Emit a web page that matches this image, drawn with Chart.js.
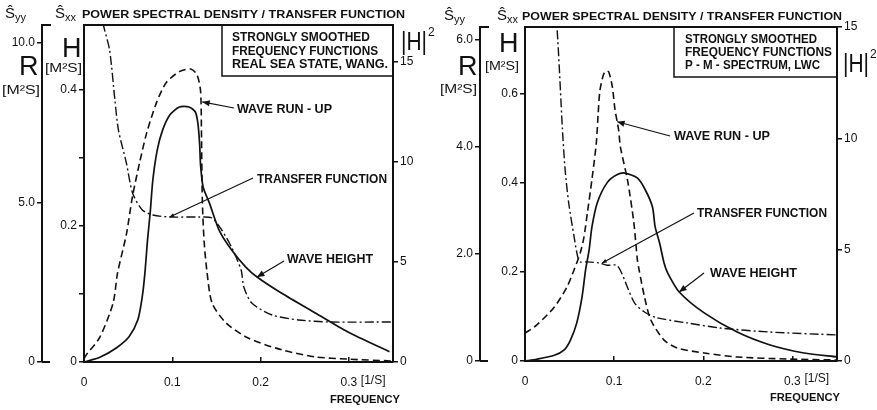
<!DOCTYPE html>
<html>
<head>
<meta charset="utf-8">
<script src="https://cdn.jsdelivr.net/npm/chart.js@4.4.0/dist/chart.umd.min.js"></script>
<style>
  html, body { margin: 0; padding: 0; background: #fff; }
  #wrap { position: relative; width: 877px; height: 410px; }
  #chart-wang { position: absolute; left: 0; top: 0; }
  #chart-pm { position: absolute; left: 437px; top: 0; }
</style>
</head>
<body>
<div id="wrap">
  <canvas id="chart-wang" width="437" height="410"></canvas>
  <canvas id="chart-pm" width="440" height="410"></canvas>
</div>
<script>
// frequency axis ticks [1/s]
const freqTicks = [0, 0.1, 0.2, 0.3];

// left panel: real sea state, Wang
const wangRunUpFreq = [0, 0.002, 0.018, 0.033, 0.038, 0.048, 0.055, 0.063, 0.071, 0.082, 0.093, 0.108, 0.121, 0.128, 0.132, 0.133, 0.134, 0.136, 0.139, 0.145, 0.161, 0.186, 0.224, 0.262, 0.299, 0.35];
const wangRunUp = [0.1, 0.2, 0.78, 1.85, 2.79, 4.0, 5.2, 6.25, 7.18, 8.12, 8.75, 9.1, 9.18, 9.0, 8.5, 7.3, 5.1, 3.8, 2.9, 1.85, 1.22, 0.75, 0.38, 0.16, 0.09, 0.03];
const wangHeightFreq = [0, 0.018, 0.037, 0.051, 0.061, 0.066, 0.069, 0.072, 0.075, 0.078, 0.083, 0.089, 0.097, 0.108, 0.119, 0.126, 0.129, 0.131, 0.132, 0.135, 0.142, 0.153, 0.167, 0.183, 0.196, 0.224, 0.262, 0.299, 0.346];
const wangHeight = [0, 0.007, 0.021, 0.037, 0.062, 0.096, 0.131, 0.18, 0.22, 0.268, 0.312, 0.341, 0.363, 0.375, 0.375, 0.368, 0.351, 0.32, 0.29, 0.257, 0.234, 0.194, 0.165, 0.14, 0.125, 0.101, 0.072, 0.044, 0.015];
const wangTransferFreq = [0.019, 0.022, 0.029, 0.035, 0.039, 0.048, 0.055, 0.066, 0.078, 0.097, 0.131, 0.145, 0.156, 0.167, 0.178, 0.181, 0.190, 0.213, 0.243, 0.280, 0.35];
const wangTransfer = [17.8, 16.85, 15.6, 13.1, 11.6, 9.95, 8.45, 7.6, 7.35, 7.25, 7.25, 7.2, 6.6, 5.75, 4.6, 3.75, 2.95, 2.35, 2.1, 2.0, 2.0];
const wangRTicks = [0, 5, 10];
const wangHTicks = [0, 0.1, 0.2, 0.3, 0.4];
const wangHLabelled = [0, 0.2, 0.4];
const wangTTicks = [0, 5, 10, 15];

// right panel: P-M spectrum, LWC
const pmRunUpFreq = [0, 0.013, 0.033, 0.047, 0.055, 0.062, 0.066, 0.070, 0.075, 0.080, 0.082, 0.084, 0.088, 0.091, 0.094, 0.098, 0.101, 0.105, 0.107, 0.115, 0.122, 0.126, 0.128, 0.134, 0.141, 0.156, 0.171, 0.201, 0.238, 0.294, 0.35];
const pmRunUp = [0.52, 0.67, 1.01, 1.38, 1.70, 2.02, 2.30, 2.77, 3.38, 4.07, 4.6, 5.05, 5.35, 5.42, 5.40, 5.12, 4.69, 4.32, 4.0, 3.38, 2.6, 1.9, 1.70, 1.20, 0.77, 0.39, 0.24, 0.15, 0.075, 0.037, 0.019];
const pmHeightFreq = [0, 0.013, 0.033, 0.044, 0.051, 0.058, 0.064, 0.068, 0.072, 0.075, 0.081, 0.092, 0.103, 0.112, 0.126, 0.135, 0.143, 0.146, 0.151, 0.156, 0.160, 0.173, 0.201, 0.238, 0.275, 0.313, 0.35];
const pmHeight = [0, 0.004, 0.013, 0.025, 0.047, 0.085, 0.144, 0.205, 0.25, 0.30, 0.355, 0.40, 0.418, 0.422, 0.411, 0.384, 0.346, 0.301, 0.265, 0.220, 0.198, 0.155, 0.108, 0.065, 0.036, 0.018, 0.009];
const pmTransferFreq = [0.033, 0.036, 0.042, 0.045, 0.049, 0.055, 0.059, 0.062, 0.070, 0.084, 0.092, 0.103, 0.109, 0.115, 0.123, 0.134, 0.148, 0.182, 0.219, 0.275, 0.35];
const pmTransfer = [15.6, 14.9, 10.4, 8.6, 7.1, 5.6, 4.7, 4.45, 4.45, 4.4, 4.3, 4.3, 3.9, 3.3, 2.6, 2.2, 1.94, 1.71, 1.48, 1.30, 1.17];
const pmRTicks = [0, 2, 4, 6];
const pmHTicks = [0, 0.2, 0.4, 0.6];
const pmTTicks = [0, 5, 10, 15];

const ink = '#111';
const FONT = "'Liberation Sans', Arial, sans-serif";

function line(ctx, x1, y1, x2, y2) {
  ctx.beginPath(); ctx.moveTo(x1, y1); ctx.lineTo(x2, y2); ctx.stroke();
}

// draw text, squeezed/stretched to a given width
function fitText(ctx, text, x, y, w, font, align) {
  ctx.font = font;
  const m = ctx.measureText(text).width;
  const k = w ? w / m : 1;
  ctx.save();
  ctx.translate(x, y);
  ctx.scale(k, 1);
  ctx.textAlign = align || 'left';
  ctx.textBaseline = 'alphabetic';
  ctx.fillText(text, 0, 0);
  ctx.restore();
  return m * k;
}

function shat(ctx, sub, x, y) {
  const w = fitText(ctx, '\u015C', x, y, 0, '15px ' + FONT);
  fitText(ctx, sub, x + w, y + 3, 0, '11px ' + FONT);
}

function arrow(ctx, x1, y1, x2, y2, size) {
  line(ctx, x1, y1, x2, y2);
  const a = Math.atan2(y2 - y1, x2 - x1);
  ctx.beginPath();
  ctx.moveTo(x2, y2);
  ctx.lineTo(x2 - size * Math.cos(a - 0.4), y2 - size * Math.sin(a - 0.4));
  ctx.lineTo(x2 - size * Math.cos(a + 0.4), y2 - size * Math.sin(a + 0.4));
  ctx.closePath();
  ctx.fill();
}

const decor = {
  id: 'decor',
  afterDraw(chart, args, o) {
    const ctx = chart.ctx, ca = chart.chartArea, s = chart.scales;
    ctx.save();
    ctx.strokeStyle = ink; ctx.fillStyle = ink;

    // frame top and stubs of the outer axis
    ctx.lineWidth = 2;
    line(ctx, ca.left - 1, ca.top, ca.right + 1, ca.top);
    line(ctx, s.yR.right, s.yR.top, s.yR.right + 9, s.yR.top);
    line(ctx, s.yR.right, s.yR.bottom, s.yR.right + 8, s.yR.bottom);

    // heading
    shat(ctx, 'yy', o.syy[0], o.syy[1]);
    shat(ctx, 'xx', o.sxx[0], o.sxx[1]);
    fitText(ctx, 'POWER SPECTRAL DENSITY / TRANSFER FUNCTION', o.head[0], o.head[1], o.head[2], 'bold 11px ' + FONT);

    // axis names
    fitText(ctx, 'R', o.rName[0], o.rName[1], 0, '27px ' + FONT);
    fitText(ctx, '[M\u00B2S]', o.rUnit[0], o.rUnit[1], o.rUnit[2], '12px ' + FONT);
    fitText(ctx, 'H', o.hName[0], o.hName[1], 0, '27px ' + FONT);
    fitText(ctx, '[M\u00B2S]', o.hUnit[0], o.hUnit[1], o.hUnit[2], '12px ' + FONT);
    const tw = fitText(ctx, '|H|', o.tName[0], o.tName[1], 26, '26px ' + FONT);
    fitText(ctx, '2', o.tName[0] + tw + 1, o.tName[1] - 14, 0, '12px ' + FONT);

    // legend box
    ctx.lineWidth = 1.5;
    const b = o.box;
    ctx.strokeRect(b.x, b.y, b.w, b.h);
    b.lines.forEach(l => fitText(ctx, l[0], b.tx, l[1], l[2], 'bold 12px ' + FONT));

    // curve labels with arrows
    ctx.lineWidth = 1.2;
    o.notes.forEach(n => {
      fitText(ctx, n.text, n.x, n.y, n.w, 'bold 12px ' + FONT);
      const tx = s.x.getPixelForValue(n.to[1]);
      const ty = s[n.to[0]].getPixelForValue(n.to[2]);
      arrow(ctx, n.from[0], n.from[1], tx, ty, n.head);
    });

    // x axis unit and name
    fitText(ctx, '[1/S]', s.x.getPixelForValue(0.3) + 12, o.xUnitY, 0, '12px ' + FONT);
    fitText(ctx, 'FREQUENCY', o.freq[0], o.freq[1], o.freq[2], 'bold 11px ' + FONT, 'right');
    ctx.restore();
  }
};

function yAxis(pos, weight, max, ticks, label, width) {
  return {
    type: 'linear', position: pos, weight, min: 0, max,
    afterBuildTicks: sc => { sc.ticks = ticks.map(v => ({ value: v })); },
    afterFit: sc => { sc.width = width; },
    ticks: { callback: label, color: ink, padding: 2, font: { family: FONT, size: 12 } },
    grid: { drawOnChartArea: false, tickLength: 5, color: ink, lineWidth: 1.5 },
    border: { color: ink, width: 2 }
  };
}

function panel(id, d) {
  const ds = (fx, fy, axis, dash, width) => ({
    data: fx.map((x, i) => ({ x, y: fy[i] })),
    yAxisID: axis, borderColor: ink, borderWidth: width, borderDash: dash,
    pointRadius: 0, tension: 0.25, fill: false
  });
  new Chart(document.getElementById(id), {
    type: 'line',
    data: {
      datasets: [
        ds(d.runUpF, d.runUp, 'yR', [7, 4], 1.6),
        ds(d.heightF, d.height, 'yH', [], 1.7),
        ds(d.transF, d.trans, 'yT', [9, 3, 2, 3], 1.4)
      ]
    },
    options: {
      responsive: false,
      animation: false,
      layout: { padding: { top: d.top, left: 0, right: 0, bottom: 0 } },
      plugins: { legend: { display: false }, tooltip: { enabled: false }, decor: d.decor },
      scales: {
        x: {
          type: 'linear', min: 0, max: 0.35,
          afterBuildTicks: sc => { sc.ticks = freqTicks.map(v => ({ value: v })); },
          afterFit: sc => { sc.height = d.bottom; },
          ticks: { callback: v => (v === 0 ? '0' : v.toFixed(1)), color: ink, padding: 18, maxRotation: 0, autoSkip: false, font: { family: FONT, size: 12 } },
          grid: { drawOnChartArea: false, tickLength: -5, color: ink, lineWidth: 1.5 },
          border: { color: ink, width: 2 }
        },
        yR: yAxis('left', 2, d.rMax, d.rTicks, v => (v === 0 ? '0' : v.toFixed(1)), d.rW),
        yH: yAxis('left', 1, d.hMax, d.hTicks, v => (d.hLabelled.includes(v) ? (v === 0 ? '0' : v.toFixed(1)) : ''), d.hW),
        yT: yAxis('right', 1, d.tMax, d.tTicks, v => String(v), d.tW)
      }
    },
    plugins: [decor]
  });
}

panel('chart-wang', {
  runUpF: wangRunUpFreq, runUp: wangRunUp,
  heightF: wangHeightFreq, height: wangHeight,
  transF: wangTransferFreq, trans: wangTransfer,
  rMax: 10.56, rTicks: wangRTicks, rW: 42,
  hMax: 0.4956, hTicks: wangHTicks, hLabelled: wangHLabelled, hW: 42,
  tMax: 16.85, tTicks: wangTTicks, tW: 44,
  top: 25, bottom: 48,
  decor: {
    syy: [5, 18], sxx: [55, 18], head: [82, 18, 323],
    rName: [19, 75], rUnit: [2, 94, 38],
    hName: [62, 57], hUnit: [45, 72, 37],
    tName: [401, 50],
    box: {
      x: 222, y: 25, w: 171, h: 51, tx: 232,
      lines: [['STRONGLY SMOOTHED', 41, 138], ['FREQUENCY FUNCTIONS', 55, 146], ['REAL SEA STATE, WANG.', 68, 156]]
    },
    notes: [
      { text: 'WAVE RUN - UP', x: 237, y: 113, w: 95, from: [234, 108], to: ['yR', 0.134, 8.15], head: 8 },
      { text: 'TRANSFER FUNCTION', x: 257, y: 183, w: 130, from: [253, 178], to: ['yT', 0.097, 7.25], head: 5 },
      { text: 'WAVE HEIGHT', x: 287, y: 263, w: 86, from: [284, 261], to: ['yH', 0.196, 0.125], head: 8 }
    ],
    xUnitY: 384, freq: [400, 403, 70]
  }
});

panel('chart-pm', {
  runUpF: pmRunUpFreq, runUp: pmRunUp,
  heightF: pmHeightFreq, height: pmHeight,
  transF: pmTransferFreq, trans: pmTransfer,
  rMax: 6.24, rTicks: pmRTicks, rW: 43,
  hMax: 0.75, hTicks: pmHTicks, hLabelled: pmHTicks, hW: 45,
  tMax: 15, tTicks: pmTTicks, tW: 40,
  top: 27, bottom: 49,
  decor: {
    syy: [7, 20], sxx: [60, 20], head: [85, 20, 320],
    rName: [21, 75], rUnit: [3, 93, 37],
    hName: [62, 52], hUnit: [48, 70, 34],
    tName: [406, 72],
    box: {
      x: 237, y: 27, w: 163, h: 50, tx: 248,
      lines: [['STRONGLY SMOOTHED', 43, 132], ['FREQUENCY FUNCTIONS', 56, 147], ['P - M - SPECTRUM, LWC', 69, 135]]
    },
    notes: [
      { text: 'WAVE RUN - UP', x: 237, y: 140, w: 96, from: [233, 136], to: ['yR', 0.1034, 4.47], head: 8 },
      { text: 'TRANSFER FUNCTION', x: 260, y: 217, w: 130, from: [257, 213], to: ['yT', 0.0865, 4.4], head: 5 },
      { text: 'WAVE HEIGHT', x: 273, y: 277, w: 87, from: [267, 273], to: ['yH', 0.173, 0.155], head: 8 }
    ],
    xUnitY: 382, freq: [403, 401, 70]
  }
});
</script>
</body>
</html>
